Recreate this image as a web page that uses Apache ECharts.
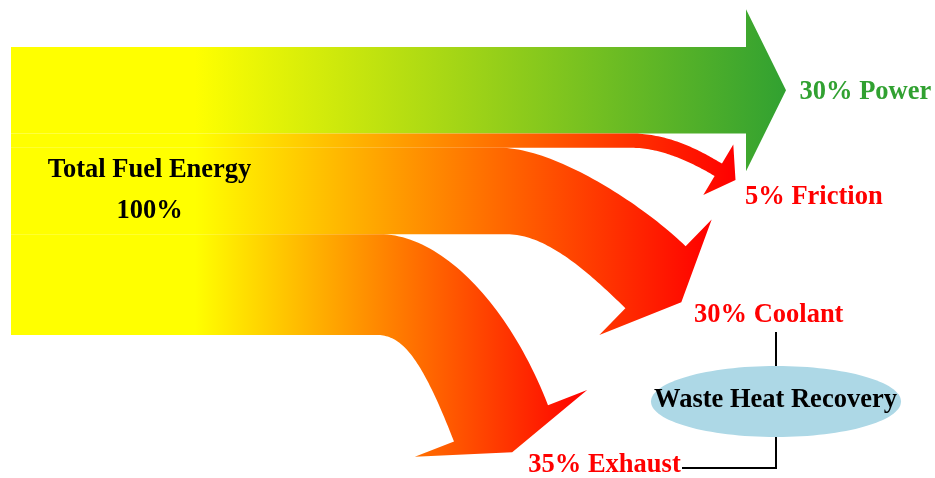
<!DOCTYPE html>
<html>
<head>
<meta charset="utf-8">
<script src="https://cdn.jsdelivr.net/npm/echarts@6/dist/echarts.min.js"></script>
<style>
  html, body { margin: 0; padding: 0; background: #ffffff; }
  #chart { width: 935px; height: 478px; }
</style>
</head>
<body>
<div id="chart"></div>
<script>
// ---- data -------------------------------------------------------------
const sourceName = 'Total Fuel Energy';
const sourceTotal = 100;
const flowNames = ['Power', 'Friction', 'Coolant', 'Exhaust'];
const flowValues = [30, 5, 30, 35];
const recoveryName = 'Waste Heat Recovery';

// ---- styling / layout (pixels) -----------------------------------------
const FONT = 'bold 26.5px "Liberation Serif", "Times New Roman", serif';
const MID_OFFSET = 7;          // baseline -> vertical middle for FONT
const blockLeft = 11;          // left edge of the fuel-energy block
const fadeStart = 195;         // gradients stay pure yellow up to here
const flowColors = ['#31a131', '#ff0000', '#ff0000', '#ff0000'];

// how each band leaves the block and where its arrow head sits
const arrowShapes = [
  { kind: 'straight', headBaseX: 746, headLen: 40, headHalf: 81 },
  { kind: 'curved', bend: [630, 632], end: [718.3, 169.8], dir: [0.86, 0.51],
    headLen: 20, headHalf: 29.4, outerHandles: [40, 25], innerHandles: [30, 25] },
  { kind: 'curved', bend: [500, 507], end: [655.5, 277.2], dir: [0.717, 0.697],
    headLen: 36, headHalf: 80.6, outerHandles: [55, 60], innerHandles: [40, 50] },
  { kind: 'curved', bend: [380, 377], end: [501, 423.4], dir: [0.361, 0.932],
    headLen: 31, headHalf: 92.4, outerHandles: [60, 110], innerHandles: [25, 90] }
];
// label anchor: left x, baseline y
const labelSpots = [[799.5, 99], [745, 204], [694, 321.7], [528.3, 471.7]];

// stacked start of each band (percent of total)
const bandStarts = [];
flowValues.reduce((acc, v) => { bandStarts.push(acc); return acc + v; }, 0);

function cubic(p0, p1, p2, p3, n) {
  const pts = [];
  for (let k = 0; k <= n; k++) {
    const t = k / n, u = 1 - t;
    const a = u * u * u, b = 3 * u * u * t, c = 3 * u * t * t, d = t * t * t;
    pts.push([a * p0[0] + b * p1[0] + c * p2[0] + d * p3[0],
              a * p0[1] + b * p1[1] + c * p2[1] + d * p3[1]]);
  }
  return pts;
}

function renderFlow(params, api) {
  const idx = api.value(0);
  const start = api.value(1);
  const val = api.value(2);
  const topPt = api.coord([blockLeft, start]);
  const botPt = api.coord([blockLeft, start + val]);
  const x0 = topPt[0], top = topPt[1], bottom = botPt[1];
  const half = (bottom - top) / 2;
  const s = arrowShapes[idx];
  let pts;

  if (s.kind === 'straight') {
    const cy = (top + bottom) / 2;
    const hb = s.headBaseX;
    pts = [[x0, top], [hb, top], [hb, cy - s.headHalf], [hb + s.headLen, cy],
           [hb, cy + s.headHalf], [hb, bottom], [x0, bottom]];
  } else {
    const len = Math.hypot(s.dir[0], s.dir[1]);
    const dx = s.dir[0] / len, dy = s.dir[1] / len;
    const nx = dy, ny = -dx;
    const [ex, ey] = s.end;
    const notchTop = [ex + nx * half, ey + ny * half];
    const notchBot = [ex - nx * half, ey - ny * half];
    const outer = cubic([s.bend[0], top], [s.bend[0] + s.outerHandles[0], top],
      [notchTop[0] - dx * s.outerHandles[1], notchTop[1] - dy * s.outerHandles[1]], notchTop, 48);
    const inner = cubic([s.bend[1], bottom], [s.bend[1] + s.innerHandles[0], bottom],
      [notchBot[0] - dx * s.innerHandles[1], notchBot[1] - dy * s.innerHandles[1]], notchBot, 48);
    pts = [[x0, top]].concat(outer, [
      [ex + nx * s.headHalf, ey + ny * s.headHalf],
      [ex + dx * s.headLen, ey + dy * s.headLen],
      [ex - nx * s.headHalf, ey - ny * s.headHalf]
    ], inner.reverse(), [[x0, bottom]]);
  }

  const maxX = Math.max.apply(null, pts.map(p => p[0]));
  const fill = new echarts.graphic.LinearGradient(fadeStart, 0, maxX, 0, [
    { offset: 0, color: '#ffff00' },
    { offset: 1, color: flowColors[idx] }
  ], true);

  const spot = labelSpots[idx];
  return {
    type: 'group',
    children: [
      { type: 'polygon', shape: { points: pts }, style: { fill: fill } },
      {
        type: 'text',
        style: {
          text: val + '% ' + flowNames[idx],
          x: spot[0], y: spot[1] - MID_OFFSET,
          fill: flowColors[idx], font: FONT,
          align: 'left', verticalAlign: 'middle'
        }
      }
    ]
  };
}

const chart = echarts.init(document.getElementById('chart'), null, { renderer: 'canvas' });

const recCx = 776, recCy = 401.5;

chart.setOption({
  animation: false,
  backgroundColor: '#ffffff',
  grid: { left: 0, right: 0, top: 47, bottom: 143 },
  xAxis: { type: 'value', min: 0, max: 935, show: false },
  yAxis: { type: 'value', min: 0, max: sourceTotal, inverse: true, show: false },
  series: [{
    type: 'custom',
    renderItem: renderFlow,
    clip: false,
    silent: true,
    data: flowValues.map((v, i) => [i, bandStarts[i], v])
  }],
  graphic: [
    {
      type: 'text', z: 10,
      style: { text: sourceName, x: 149.5, y: 176.7 - MID_OFFSET, font: FONT, fill: '#000000',
               align: 'center', verticalAlign: 'middle' }
    },
    {
      type: 'text', z: 10,
      style: { text: sourceTotal + '%', x: 149.5, y: 218.3 - MID_OFFSET, font: FONT, fill: '#000000',
               align: 'center', verticalAlign: 'middle' }
    },
    {
      type: 'polyline', z: 5,
      shape: { points: [[recCx, 332], [recCx, 366]] },
      style: { stroke: '#000000', lineWidth: 2, fill: null }
    },
    {
      type: 'polyline', z: 5,
      shape: { points: [[recCx, 437], [recCx, 468], [682, 468]] },
      style: { stroke: '#000000', lineWidth: 2, fill: null }
    },
    {
      type: 'ellipse', z: 6,
      shape: { cx: recCx, cy: recCy, rx: 125, ry: 35.5 },
      style: { fill: '#add8e6' }
    },
    {
      type: 'text', z: 10,
      style: { text: recoveryName, x: 775.5, y: 407 - MID_OFFSET, font: FONT, fill: '#000000',
               align: 'center', verticalAlign: 'middle' }
    }
  ]
});
</script>
</body>
</html>
